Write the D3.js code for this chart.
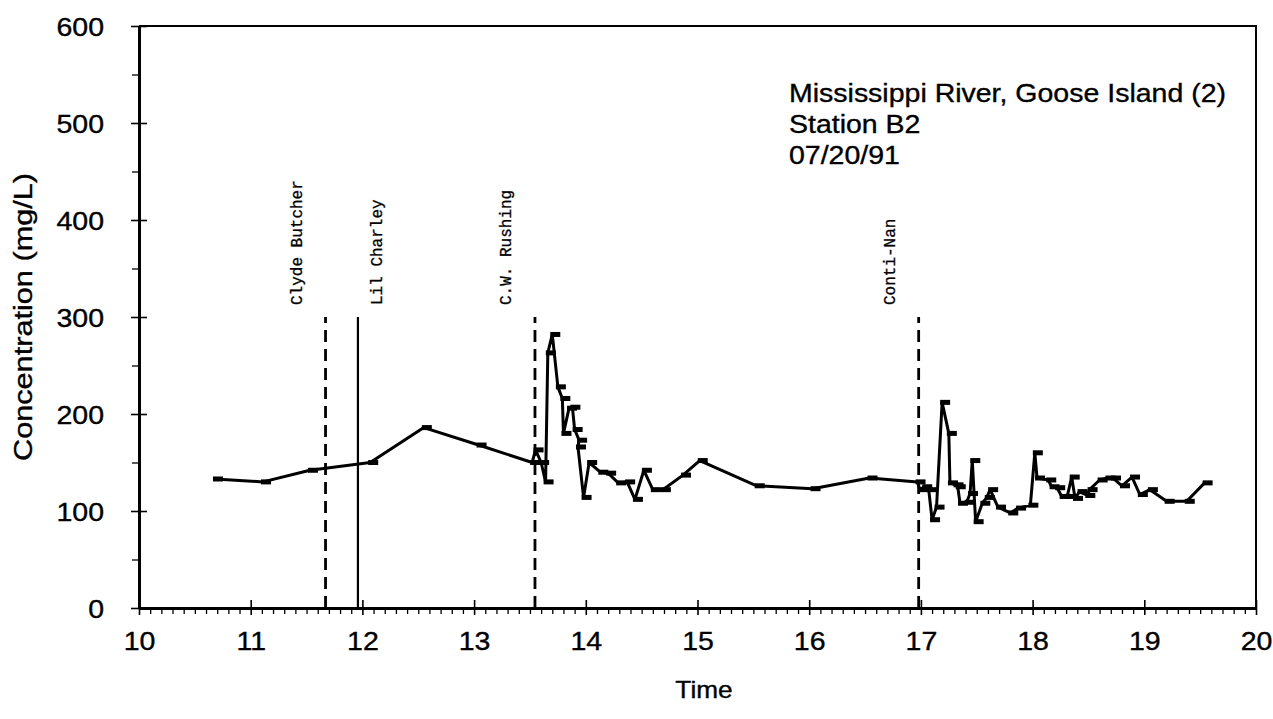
<!DOCTYPE html>
<html>
<head>
<meta charset="utf-8">
<script src="https://cdn.jsdelivr.net/npm/d3@7"></script>
<style>
  html, body { margin: 0; padding: 0; background: #fff; }
  svg text { fill: #000; }
</style>
</head>
<body>
<svg id="chart" width="1273" height="719"></svg>
<script>
// Sample times (hours) and measured concentrations (mg/L)
const times = [
  10.68, 11.11, 11.53, 12.07, 12.55, 13.04, 13.52, 13.55, 13.60, 13.64,
  13.66, 13.70, 13.75, 13.79, 13.80, 13.85, 13.88, 13.90, 13.94, 13.93,
  13.98, 14.03, 14.13, 14.20, 14.29, 14.37, 14.44, 14.52, 14.60, 14.69,
  14.87, 15.02, 15.53, 16.03, 16.54, 16.97, 16.99, 17.03, 17.07, 17.10,
  17.14, 17.19, 17.25, 17.26, 17.31, 17.33, 17.35, 17.41, 17.44, 17.46,
  17.49, 17.55, 17.59, 17.62, 17.69, 17.80, 17.87, 17.98, 18.02, 18.04,
  18.14, 18.17, 18.22, 18.26, 18.31, 18.35, 18.38, 18.42, 18.49, 18.51,
  18.60, 18.67, 18.72, 18.80, 18.89, 18.96, 19.05, 19.20, 19.38, 19.54
];
const conc = [
  133, 130, 142, 150, 186, 168, 150, 163, 150, 130,
  263, 282, 228, 216, 180, 206, 207, 184, 173, 166,
  114, 150, 140, 139, 129, 130, 112, 142, 122, 122,
  137, 152, 126, 123, 134, 130, 122, 125, 122, 91,
  104, 212, 180, 129, 127, 125, 108, 109, 118, 152,
  89, 108, 114, 122, 104, 98, 103, 106, 160, 134,
  132, 125, 124, 115, 115, 135, 113, 120, 116, 122,
  132, 134, 134, 126, 135, 117, 122, 110, 110, 129
];

// Vessel passages marked on the record
const eventNames = ["Clyde Butcher", "Lil Charley", "C.W. Rushing", "Conti-Nan"];
const eventTimes = [11.67, 11.96, 13.545, 16.98];
const eventDashed = [true, false, true, true];
const eventLabelSide = [-1, 1, -1, -1];
const eventTop = 300;

const xTicks = [10, 11, 12, 13, 14, 15, 16, 17, 18, 19, 20];
const yTicks = [0, 100, 200, 300, 400, 500, 600];

const noteLines = ["Mississippi River, Goose Island (2)", "Station B2", "07/20/91"];

const svg = d3.select("#chart");
const plotL = 139, plotR = 1256, plotT = 26, plotB = 608;

const x = d3.scaleLinear().domain([10, 20]).range([plotL, plotR]);
const y = d3.scaleLinear().domain([0, 600]).range([plotB, plotT]);

const sans = "'Liberation Sans', Arial, Helvetica, sans-serif";
const mono = "'Liberation Mono', 'Courier New', monospace";
const labelSize = 25;
const wide = 1.14;   // the lettering is set slightly expanded

// Sans lettering, expanded horizontally and a touch heavier
function styleSans(sel, size) {
  sel.attr("font-family", sans).attr("font-size", size)
    .attr("stroke", "#000").attr("stroke-width", 0.35);
}

// Frame: top and right edges
svg.append("path")
  .attr("d", `M${plotL},${plotT}H${plotR}V${plotB}`)
  .attr("fill", "none").attr("stroke", "#000").attr("stroke-width", 2);

// Y axis with major ticks crossing the spine and minor ticks outside
const yAxis = svg.append("g").attr("transform", `translate(${plotL},0)`)
  .call(d3.axisLeft(y).tickValues(yTicks).tickSizeInner(8).tickSizeOuter(0));
yAxis.select(".domain").attr("stroke-width", 3);
yAxis.selectAll(".tick line").attr("x2", 8).attr("x1", -8).attr("stroke-width", 1.6);
yAxis.selectAll(".tick text")
  .attr("x", null).attr("dy", null)
  .attr("transform", `translate(-35,9) scale(${wide},1)`)
  .call(styleSans, labelSize);
svg.append("g").attr("transform", `translate(${plotL},0)`)
  .call(d3.axisLeft(y).tickValues(d3.range(50, 600, 100)).tickSize(7).tickFormat(""))
  .call(g => g.select(".domain").remove())
  .selectAll(".tick line").attr("stroke-width", 1.3);

// X axis
const xAxis = svg.append("g").attr("transform", `translate(0,${plotB})`)
  .call(d3.axisBottom(x).tickValues(xTicks).tickSizeInner(7).tickSizeOuter(0));
xAxis.select(".domain").attr("stroke-width", 3);
xAxis.selectAll(".tick line").attr("y2", 7).attr("y1", -8).attr("stroke-width", 1.6);
xAxis.selectAll(".tick text")
  .attr("y", null).attr("dy", null)
  .attr("transform", `translate(0,42) scale(${wide},1)`)
  .call(styleSans, labelSize);
svg.append("g").attr("transform", `translate(0,${plotB})`)
  .call(d3.axisBottom(x).tickValues(d3.range(101, 200).filter(v => v % 10 !== 0).map(v => v / 10)).tickSize(6).tickFormat(""))
  .call(g => g.select(".domain").remove())
  .selectAll(".tick line").attr("stroke-width", 1.3);

// Axis titles
svg.append("text")
  .attr("transform", `translate(32,${(plotT + plotB) / 2}) rotate(-90) scale(${wide + 0.04},1)`)
  .attr("text-anchor", "middle")
  .call(styleSans, 26)
  .text("Concentration (mg/L)");
svg.append("text")
  .attr("transform", `translate(704,698) scale(${wide},1)`)
  .attr("text-anchor", "middle")
  .call(styleSans, 23)
  .text("Time");

// Vessel passage lines and labels
eventNames.forEach((name, i) => {
  const xe = x(eventTimes[i]);
  svg.append("line")
    .attr("x1", xe).attr("x2", xe).attr("y1", y(0)).attr("y2", y(eventTop))
    .attr("stroke", "#000").attr("stroke-width", eventDashed[i] ? 2.8 : 2.2)
    .attr("stroke-dasharray", eventDashed[i] ? "12,7" : null);
  svg.append("text")
    .attr("transform", `translate(${xe + eventLabelSide[i] * 24},${y(eventTop) - 12}) rotate(-90)`)
    .attr("text-anchor", "start").attr("font-family", mono).attr("font-size", 16)
    .attr("stroke", "#000").attr("stroke-width", 0.3)
    .text(name);
});

// Concentration record
const pts = times.map((t, i) => [t, conc[i]]);
svg.append("path")
  .datum(pts)
  .attr("fill", "none").attr("stroke", "#000").attr("stroke-width", 3)
  .attr("stroke-linejoin", "round")
  .attr("d", d3.line().x(d => x(d[0])).y(d => y(d[1])));
svg.append("g").selectAll("rect").data(pts).join("rect")
  .attr("x", d => x(d[0]) - 2).attr("y", d => y(d[1]) - 2.5)
  .attr("width", 10).attr("height", 5).attr("fill", "#000");

// Site notes
svg.append("g").selectAll("text").data(noteLines).join("text")
  .attr("transform", (d, i) => `translate(789,${102 + i * 31}) scale(${wide},1)`)
  .call(styleSans, 25)
  .text(d => d);
</script>
</body>
</html>
